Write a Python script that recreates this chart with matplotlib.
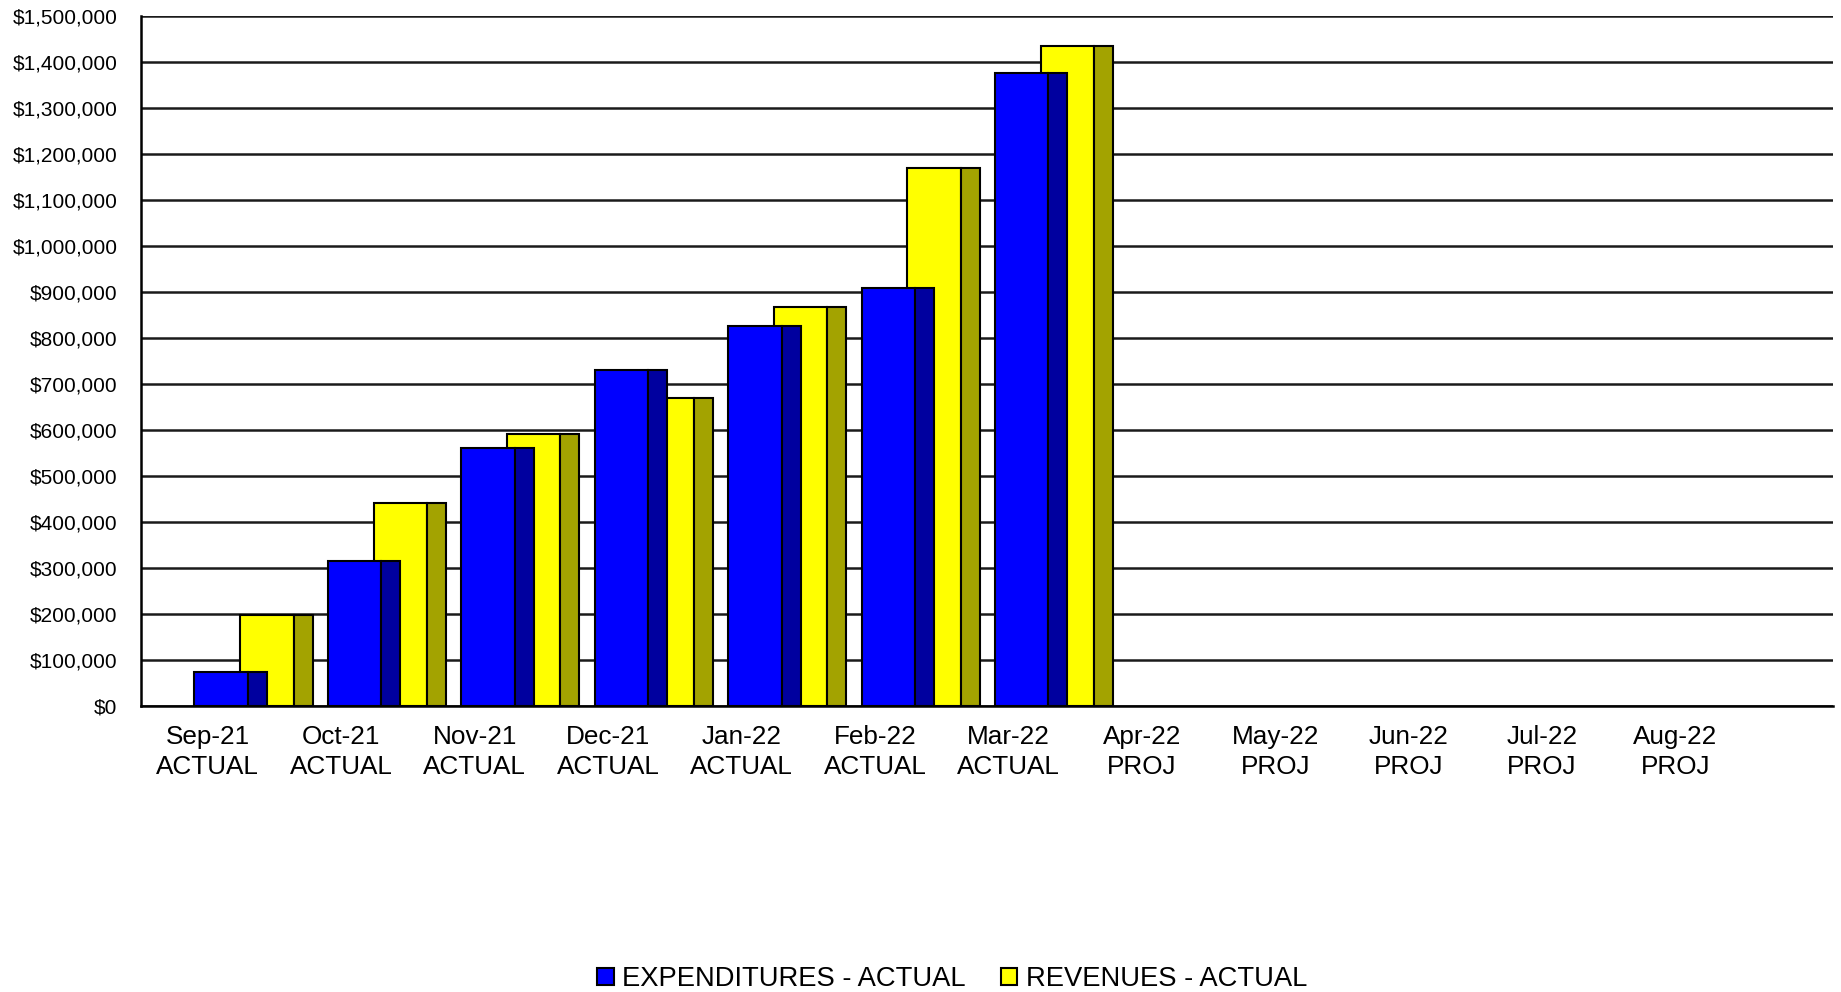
import numpy as np
import matplotlib
matplotlib.use("Agg")
import matplotlib.pyplot as plt
from matplotlib.patches import Patch
from matplotlib.ticker import FuncFormatter

plt.rcParams["font.family"] = ["Liberation Sans", "DejaVu Sans"]

MONTHS = ["Sep-21", "Oct-21", "Nov-21", "Dec-21", "Jan-22", "Feb-22",
          "Mar-22", "Apr-22", "May-22", "Jun-22", "Jul-22", "Aug-22"]
STATUS = ["ACTUAL"] * 7 + ["PROJ"] * 5
EXPENDITURES = [75000, 315000, 561000, 731000, 826000, 908000, 1377000]
REVENUES = [197000, 442000, 592000, 670000, 868000, 1170000, 1435000]

BLUE, BLUE_SIDE = "#0000ff", "#00009f"
YELLOW, YELLOW_SIDE = "#ffff00", "#a3a300"

FRONT_W = 0.40   # front face width (category units)
SIDE_W = 0.143   # shaded side face width


def draw_bar3d(ax, x0, values, face, side, z):
    x0 = np.asarray(x0, dtype=float)
    ax.bar(x0, values, width=FRONT_W, align="edge", color=face,
           edgecolor="black", linewidth=1.5, zorder=z)
    ax.bar(x0 + FRONT_W, values, width=SIDE_W, align="edge", color=side,
           edgecolor="black", linewidth=1.5, zorder=z)


fig = plt.figure(figsize=(18.41, 9.92), dpi=100)
ax = fig.add_axes([141 / 1841, 1 - 706 / 992, (1833 - 141) / 1841, 690 / 992])

x = np.arange(len(EXPENDITURES))
# revenues sit behind, expenditures in front
draw_bar3d(ax, x + 0.243, REVENUES, YELLOW, YELLOW_SIDE, 3)
draw_bar3d(ax, x - 0.10, EXPENDITURES, BLUE, BLUE_SIDE, 4)

ax.set_xlim(-0.5, 12.18)
ax.set_ylim(0, 1500000)
ax.set_yticks(np.arange(0, 1500001, 100000))
ax.yaxis.set_major_formatter(FuncFormatter(lambda v, _: f"${v:,.0f}"))
ax.set_xticks(np.arange(len(MONTHS)))
ax.set_xticklabels([f"{m}\n{s}" for m, s in zip(MONTHS, STATUS)],
                   fontsize=18.8, linespacing=1.28)
ax.tick_params(axis="x", length=0, pad=14)
ax.tick_params(axis="y", length=0, pad=17, labelsize=15)

ax.yaxis.grid(True, color="#1a1a1a", linewidth=1.8, zorder=1)
ax.set_axisbelow(True)
for side in ("top", "right"):
    ax.spines[side].set_visible(False)
ax.spines["left"].set_linewidth(1.8)
ax.spines["bottom"].set_linewidth(1.8)

handles = [Patch(facecolor=BLUE, edgecolor="black", linewidth=1.5),
           Patch(facecolor=YELLOW, edgecolor="black", linewidth=1.5)]
fig.legend(handles, ["EXPENDITURES - ACTUAL", "REVENUES - ACTUAL"],
           loc="center", bbox_to_anchor=(952 / 1841, 1 - 979 / 992), ncol=2,
           frameon=False, fontsize=19.7, handlelength=0.6, handleheight=0.6,
           handletextpad=0.3, columnspacing=1.3)

fig.savefig("out.png", dpi=100)
